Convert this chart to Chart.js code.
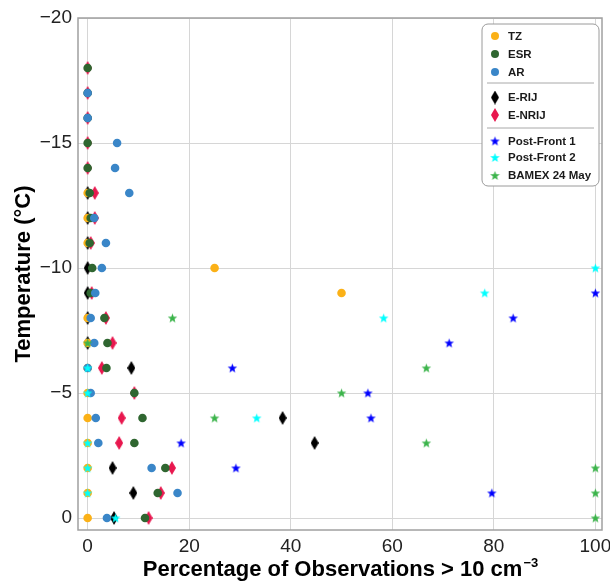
<!DOCTYPE html>
<html>
<head>
<meta charset="utf-8">
<title>Temperature vs observations</title>
<script src="https://cdn.jsdelivr.net/npm/chart.js@4.4.1/dist/chart.umd.min.js"></script>
<style>
    html, body { margin: 0; padding: 0; background: #ffffff; }
    #wrap { width: 610px; height: 582px; position: relative; }
</style>
</head>
<body>
<div id="wrap"><canvas id="tempChart" width="610" height="582"></canvas></div>
<script>
// Temperature levels (°C), one row per level
const temps = [0, -1, -2, -3, -4, -5, -6, -7, -8, -9, -10, -11, -12, -13, -14, -15, -16, -17, -18];

// Percentage of observations > 10 cm^-3 at each level (null = no data)
const tzPct    = [0, 0, 0, 0, 0, 0, 0, 0, 0, 50, 25, 0, 0, 0, null, null, null, null, null];
const esrPct   = [11.3, 13.8, 15.3, 9.2, 10.8, 9.2, 3.7, 3.9, 3.3, 0.6, 0.9, 0.4, 0.6, 0.4, 0, 0, 0, 0, 0];
const arPct    = [3.8, 17.7, 12.6, 2.1, 1.6, 0.6, 0, 1.3, 0.6, 1.5, 2.8, 3.6, 1.3, 8.2, 5.4, 5.8, 0, 0, null];
const eRijPct  = [5.2, 9.0, 4.9, 44.7, 38.4, null, 8.6, 0, 0, 0, 0, 0, 0, 0, null, null, null, null, null];
const eNrijPct = [12.0, 14.4, 16.6, 6.2, 6.7, 9.2, 2.8, 4.9, 3.6, 0.8, null, 0.6, 1.4, 1.4, 0, 0, 0, 0, 0];
const pf1Pct   = [null, 79.6, 29.2, 18.4, 55.8, 55.2, 28.5, 71.2, 83.8, 100, null, null, null, null, null, null, null, null, null];
const pf2Pct   = [5.5, 0, 0, 0, 33.3, 0, 0, null, 58.3, 78.2, 100, null, null, null, null, null, null, null, null];
const bamexPct = [100, 100, 100, 66.7, 25, 50, 66.7, 0, 16.7, null, null, null, null, null, null, null, null, null, null];

// Axis ticks
const xTicks = [0, 20, 40, 60, 80, 100];
const yTicks = [-20, -15, -10, -5, 0];

const FONT = '"Liberation Sans", Arial, Helvetica, sans-serif';

const colors = {
    tz: '#FBB117',
    esr: '#2F6630',
    ar: '#3A86C8',
    eRij: '#000000',
    eNrij: '#E8174E',
    pf1: '#0000FF',
    pf2: '#00FFFF',
    bamex: '#3CB44B'
};

// Tall narrow diamond marker
function makeDiamond(color) {
    const w = 8, h = 14;
    const c = document.createElement('canvas');
    c.width = w; c.height = h;
    const ctx = c.getContext('2d');
    ctx.fillStyle = color;
    ctx.beginPath();
    ctx.moveTo(w / 2, 0);
    ctx.lineTo(w, h / 2);
    ctx.lineTo(w / 2, h);
    ctx.lineTo(0, h / 2);
    ctx.closePath();
    ctx.fill();
    return c;
}

// Filled five-point star marker
function makeStar(color) {
    const s = 11;
    const c = document.createElement('canvas');
    c.width = s; c.height = s;
    const ctx = c.getContext('2d');
    const cx = s / 2, cy = s / 2 + 0.4, outer = 5, inner = 2.1;
    ctx.fillStyle = color;
    ctx.beginPath();
    for (let i = 0; i < 10; i++) {
        const r = i % 2 === 0 ? outer : inner;
        const a = -Math.PI / 2 + i * Math.PI / 5;
        const px = cx + r * Math.cos(a);
        const py = cy + r * Math.sin(a);
        if (i === 0) ctx.moveTo(px, py); else ctx.lineTo(px, py);
    }
    ctx.closePath();
    ctx.fill();
    return c;
}

// Pair each value with its temperature level
function toPoints(values) {
    const pts = [];
    values.forEach((v, i) => {
        if (v !== null) pts.push({ x: v, y: temps[i] });
    });
    return pts;
}

const markers = {
    eRij: makeDiamond(colors.eRij),
    eNrij: makeDiamond(colors.eNrij),
    pf1: makeStar(colors.pf1),
    pf2: makeStar(colors.pf2),
    bamex: makeStar(colors.bamex)
};

function circleSet(label, values, color, order) {
    return {
        label: label,
        data: toPoints(values),
        pointStyle: 'circle',
        pointRadius: 4.3,
        backgroundColor: color,
        borderColor: color,
        borderWidth: 0,
        order: order
    };
}

function imageSet(label, values, img, order) {
    return {
        label: label,
        data: toPoints(values),
        pointStyle: img,
        pointRadius: 5,
        order: order
    };
}

// Frame round the plot area and the two axis titles
const framePlugin = {
    id: 'frame',
    beforeDatasetsDraw(chart) {
        const a = chart.chartArea;
        const ctx = chart.ctx;
        ctx.save();
        ctx.strokeStyle = '#a0a0a0';
        ctx.lineWidth = 1.5;
        ctx.strokeRect(a.left, a.top, a.right - a.left, a.bottom - a.top);
        ctx.restore();
    },
    afterDraw(chart) {
        const a = chart.chartArea;
        const ctx = chart.ctx;
        ctx.save();
        ctx.fillStyle = '#000000';

        // y title
        ctx.font = 'bold 22px ' + FONT;
        ctx.textAlign = 'center';
        ctx.textBaseline = 'middle';
        ctx.translate(24, (a.top + a.bottom) / 2);
        ctx.rotate(-Math.PI / 2);
        ctx.fillText('Temperature (°C)', 0, 0);
        ctx.setTransform(1, 0, 0, 1, 0, 0);

        // x title with superscript
        const main = 'Percentage of Observations > 10 cm';
        const sup = '\u22123';
        ctx.font = 'bold 22px ' + FONT;
        const wMain = ctx.measureText(main).width;
        ctx.font = 'bold 13px ' + FONT;
        const wSup = ctx.measureText(sup).width;
        const x0 = (a.left + a.right) / 2 - (wMain + wSup) / 2;
        const yBase = 583 - 7;
        ctx.textAlign = 'left';
        ctx.textBaseline = 'alphabetic';
        ctx.font = 'bold 22px ' + FONT;
        ctx.fillText(main, x0, yBase);
        ctx.font = 'bold 13px ' + FONT;
        ctx.fillText(sup, x0 + wMain + 1, yBase - 9);
        ctx.restore();
    }
};

// Grouped legend box with separator lines
const legendPlugin = {
    id: 'groupedLegend',
    afterDraw(chart) {
        const ctx = chart.ctx;
        const box = { x: 482, y: 24, w: 117, h: 162, r: 6 };
        ctx.save();
        ctx.beginPath();
        ctx.roundRect(box.x, box.y, box.w, box.h, box.r);
        ctx.fillStyle = '#ffffff';
        ctx.fill();
        ctx.strokeStyle = '#9a9a9a';
        ctx.lineWidth = 1;
        ctx.stroke();

        const rows = [
            { text: 'TZ', y: 36, circle: colors.tz },
            { text: 'ESR', y: 54, circle: colors.esr },
            { text: 'AR', y: 72, circle: colors.ar },
            { sep: 83 },
            { text: 'E-RIJ', y: 97.5, img: markers.eRij },
            { text: 'E-NRIJ', y: 115, img: markers.eNrij },
            { sep: 128 },
            { text: 'Post-Front 1', y: 141, img: markers.pf1 },
            { text: 'Post-Front 2', y: 157.5, img: markers.pf2 },
            { text: 'BAMEX 24 May', y: 175.5, img: markers.bamex }
        ];

        const mx = 495, tx = 508;
        ctx.font = 'bold 11.5px ' + FONT;
        ctx.textBaseline = 'middle';
        ctx.textAlign = 'left';
        rows.forEach(row => {
            if (row.sep !== undefined) {
                ctx.beginPath();
                ctx.moveTo(487, row.sep);
                ctx.lineTo(594, row.sep);
                ctx.strokeStyle = '#a8a8a8';
                ctx.lineWidth = 1;
                ctx.stroke();
                return;
            }
            if (row.circle) {
                ctx.beginPath();
                ctx.arc(mx, row.y, 4, 0, Math.PI * 2);
                ctx.fillStyle = row.circle;
                ctx.fill();
            } else {
                ctx.drawImage(row.img, mx - row.img.width / 2, row.y - row.img.height / 2);
            }
            ctx.fillStyle = '#1a1a1a';
            ctx.fillText(row.text, tx, row.y + 0.5);
        });
        ctx.restore();
    }
};

function formatMinus(v) {
    return v < 0 ? '\u2212' + Math.abs(v) : String(v);
}

document.addEventListener('DOMContentLoaded', function() {
    const ctx = document.getElementById('tempChart');

    // Stars on top, then circles, then diamonds underneath
    const datasets = [
        circleSet('TZ', tzPct, colors.tz, 6),
        circleSet('ESR', esrPct, colors.esr, 5),
        circleSet('AR', arPct, colors.ar, 4),
        imageSet('E-RIJ', eRijPct, markers.eRij, 8),
        imageSet('E-NRIJ', eNrijPct, markers.eNrij, 7),
        imageSet('Post-Front 1', pf1Pct, markers.pf1, 3),
        imageSet('Post-Front 2', pf2Pct, markers.pf2, 2),
        imageSet('BAMEX 24 May', bamexPct, markers.bamex, 1)
    ];

    new Chart(ctx, {
        type: 'scatter',
        data: { datasets: datasets },
        options: {
            responsive: false,
            animation: false,
            events: [],
            layout: { padding: { top: 18, right: 8, left: 0, bottom: 0 } },
            plugins: {
                legend: { display: false },
                tooltip: { enabled: false }
            },
            scales: {
                x: {
                    type: 'linear',
                    min: -1.9,
                    max: 101.3,
                    afterFit: scale => {
                        scale.height = 52;
                        // let the "100" label hang past the plot edge
                        scale.paddingLeft = 0;
                        scale.paddingRight = 0;
                    },
                    afterBuildTicks: scale => {
                        scale.ticks = xTicks.map(v => ({ value: v }));
                    },
                    grid: { color: '#d6d6d6', lineWidth: 1, drawTicks: false },
                    border: { display: false },
                    ticks: {
                        padding: 5,
                        color: '#222222',
                        font: { family: FONT, size: 19 },
                        maxRotation: 0,
                        callback: v => formatMinus(v)
                    }
                },
                y: {
                    type: 'linear',
                    reverse: true,
                    min: -20,
                    max: 0.48,
                    afterFit: scale => {
                        scale.width = 78;
                        scale.paddingTop = 0;
                        scale.paddingBottom = 0;
                    },
                    afterBuildTicks: scale => {
                        scale.ticks = yTicks.map(v => ({ value: v }));
                    },
                    grid: { color: '#d6d6d6', lineWidth: 1, drawTicks: false },
                    border: { display: false },
                    ticks: {
                        padding: 6,
                        color: '#222222',
                        font: { family: FONT, size: 19 },
                        callback: v => formatMinus(v)
                    }
                }
            }
        },
        plugins: [framePlugin, legendPlugin]
    });
});
</script>
</body>
</html>
